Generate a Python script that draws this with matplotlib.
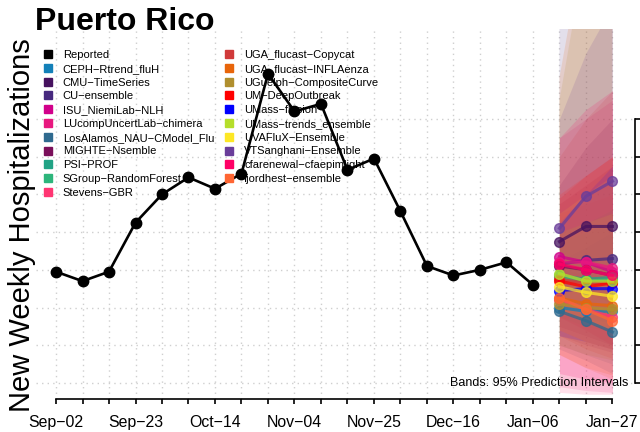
import numpy as np
import matplotlib
matplotlib.use('Agg')
import matplotlib.pyplot as plt
from matplotlib.lines import Line2D

plt.rcParams['font.family'] = ['Liberation Sans', 'DejaVu Sans']

# Weekly target dates (x axis), Sep-02 .. Jan-27
week_labels = ['Sep−02', 'Sep−09', 'Sep−16', 'Sep−23', 'Sep−30', 'Oct−07', 'Oct−14',
               'Oct−21', 'Oct−28', 'Nov−04', 'Nov−11', 'Nov−18', 'Nov−25', 'Dec−02',
               'Dec−09', 'Dec−16', 'Dec−23', 'Dec−30', 'Jan−06', 'Jan−13', 'Jan−20',
               'Jan−27']

# Reported hospitalizations (Sep-02 .. Jan-06)
reported = [79, 74, 79, 105, 120, 129, 123, 131, 184, 164, 168, 133, 139, 111,
            82, 77, 80, 84, 72]

# forecast weeks: Jan-13, Jan-20, Jan-27
fc_weeks = ['Jan−13', 'Jan−20', 'Jan−27']

models = ['CEPH−Rtrend_fluH', 'CMU−TimeSeries', 'CU−ensemble', 'ISU_NiemiLab−NLH',
          'LUcompUncertLab−chimera', 'LosAlamos_NAU−CModel_Flu', 'MIGHTE−Nsemble',
          'PSI−PROF', 'SGroup−RandomForest', 'Stevens−GBR', 'UGA_flucast−Copycat',
          'UGA_flucast−INFLAenza', 'UGuelph−CompositeCurve', 'UM−DeepOutbreak',
          'UMass−flusion', 'UMass−trends_ensemble', 'UVAFluX−Ensemble',
          'VTSanghani−Ensemble', 'cfarenewal−cfaepimlight', 'fjordhest−ensemble']

colors = ['#1380B8', '#46125F', '#47297F', '#D1008A', '#E8187F', '#2F6A8F', '#7A0F5A',
          '#21A385', '#2DB57B', '#FF3572', '#D03A3A', '#E8650A', '#B08F2E', '#FF0000',
          '#0000FF', '#B5DE2B', '#FDE725', '#6A3D9A', '#FF0066', '#FF6633']

# median forecasts
median = [[60, 58, 58], [95, 103, 103], [83, 85, 86], [87, 84, 79], [84, 84, 81],
          [58, 53, 47], [82, 80, 77], [77, 75, 76], [76, 74, 75], [64, 59, 55],
          [75, 73, 73], [65, 62, 61], [62, 60, 59], [74, 71, 73], [69, 70, 70],
          [78, 74, 74], [71, 68, 66], [102, 119, 127], [83, 80, 77], [65, 59, 53]]

# 95% prediction intervals
lower = [[40, 35, 30], [70, 68, 62], [45, 40, 36], [55, 48, 40], [18, 16, 15],
         [38, 32, 25], [50, 45, 40], [55, 50, 47], [58, 54, 52], [15, 14, 14],
         [45, 38, 33], [35, 28, 24], [40, 35, 32], [48, 42, 38], [45, 42, 38],
         [58, 52, 48], [48, 42, 38], [70, 75, 75], [25, 22, 20], [35, 28, 22]]
upper = [[85, 92, 100], [125, 145, 160], [215, 250, 280], [120, 130, 140],
         [150, 160, 170], [80, 78, 75], [115, 125, 135], [100, 105, 112],
         [95, 100, 105], [110, 115, 120], [140, 160, 175], [182, 260, 330],
         [170, 250, 320], [118, 130, 140], [105, 120, 135], [100, 105, 110],
         [110, 120, 130], [160, 195, 220], [150, 165, 175], [120, 130, 140]]

y_ticks = [20, 40, 60, 80, 100, 120, 140, 160]

fig = plt.figure(figsize=(6.4, 4.32), dpi=100)
ax = fig.add_axes([36/640, 1 - 399/432, (635-36)/640, (399-29)/432])

x_rep = np.arange(len(reported))
x_fc = np.array([week_labels.index(w) for w in fc_weeks])

# bands
for c, lo, hi in zip(colors, lower, upper):
    ax.fill_between(x_fc, lo, hi, color=c, alpha=0.15, linewidth=0)

ax.plot(x_rep, reported, color='black', lw=1.9, marker='o', ms=7.5, zorder=5)

for c, m in zip(colors, median):
    ax.plot(x_fc, m, color=c, lw=2.2, marker='o', ms=7, alpha=0.75, zorder=4)

ax.set_xlim(-0.755, 21.85)
ax.set_ylim(11.5, 207.7)

ax.set_xticks(np.arange(len(week_labels)))
ax.set_xticklabels([w if i % 3 == 0 else '' for i, w in enumerate(week_labels)],
                   fontsize=11.4)
ax.set_yticks(y_ticks)
ax.yaxis.tick_right()
ax.tick_params(axis='y', labelright=False, direction='out', length=5, width=1.2)
ax.tick_params(axis='x', direction='out', length=3.6, width=1.2, pad=8)

ax.grid(True, color='#CFCFCF', linestyle=(0, (1, 3)), lw=1)
ax.set_axisbelow(True)

for s in ['top', 'left']:
    ax.spines[s].set_visible(False)
ax.spines['bottom'].set_bounds(0, len(week_labels) - 1)
ax.spines['right'].set_bounds(y_ticks[0], y_ticks[-1])
ax.spines['bottom'].set_linewidth(1.2)
ax.spines['right'].set_linewidth(1.2)

handles = [Line2D([], [], ls='', marker='s', ms=6, color='black')]
handles += [Line2D([], [], ls='', marker='s', ms=6, color=c) for c in colors]
labels = ['Reported'] + models
ax.legend(handles, labels, ncol=2, loc='upper left', frameon=False,
          bbox_to_anchor=(43.4/640, 1 - 50/432), bbox_transform=fig.transFigure,
          fontsize=8.0, borderpad=0, borderaxespad=0, handlelength=0.8,
          handletextpad=0.95, columnspacing=0.95, labelspacing=0.34)

fig.text(35/640, 1 - 30/432, 'Puerto Rico', fontsize=23, fontweight='bold',
         va='baseline', ha='left')
fig.text(22/640, 1 - 225/432, 'New Weekly Hospitalizations', fontsize=21,
         rotation=90, va='center', ha='center')
fig.text(628/640, 1 - 383/432, 'Bands: 95% Prediction Intervals', fontsize=9,
         ha='right', va='center')

fig.savefig('out.png', dpi=100)
